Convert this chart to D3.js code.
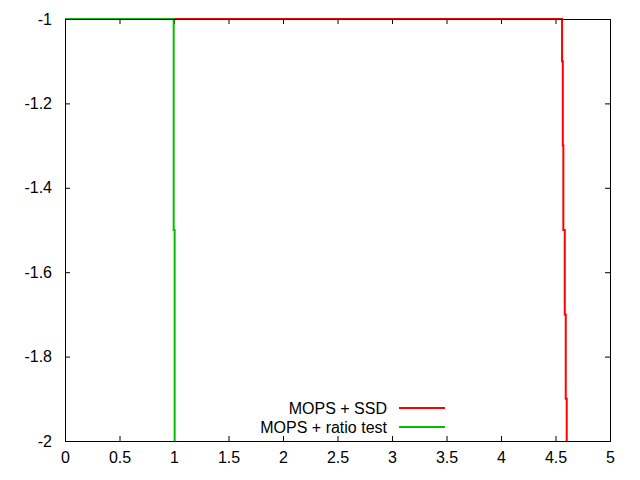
<!DOCTYPE html>
<html>
<head>
<meta charset="utf-8">
<script src="https://cdn.jsdelivr.net/npm/d3@7"></script>
<style>
  body { margin: 0; background: #fff; }
  text { font-family: "Liberation Sans", Arial, sans-serif; font-size: 16px; fill: #000; }
</style>
</head>
<body>
<svg id="chart" width="640" height="480"></svg>
<script>
// series (x, y) - stepped curves
var ssdX = [0, 4.56, 4.56, 4.567, 4.567, 4.572, 4.572, 4.585, 4.585, 4.594, 4.594, 4.603, 4.603];
var ssdY = [-1, -1, -1.1, -1.1, -1.3, -1.3, -1.5, -1.5, -1.7, -1.7, -1.9, -1.9, -2];
var ratioX = [0, 0.997, 0.997, 1.006, 1.006];
var ratioY = [-1, -1, -1.5, -1.5, -2];

var xTicks = [0, 0.5, 1, 1.5, 2, 2.5, 3, 3.5, 4, 4.5, 5];
var yTicks = [-1, -1.2, -1.4, -1.6, -1.8, -2];

var seriesNames = ['MOPS + SSD', 'MOPS + ratio test'];
var seriesColors = ['#ff0000', '#00c000'];

var margin = {left: 65, right: 30, top: 19, bottom: 39};
var width = 640, height = 480;

var svg = d3.select('#chart');

var x = d3.scaleLinear().domain([0, 5]).range([margin.left, width - margin.right]);
var y = d3.scaleLinear().domain([-2, -1]).range([height - margin.bottom, margin.top]);

var fmt = function(d) { return String(d); };

// axes, gnuplot style: ticks pointing inward, mirrored
svg.append('g')
  .attr('transform', 'translate(0,' + y(-2) + ')')
  .call(d3.axisBottom(x).tickValues(xTicks).tickFormat(fmt).tickSizeInner(-5).tickSizeOuter(0).tickPadding(11));
svg.append('g')
  .attr('transform', 'translate(0,' + y(-1) + ')')
  .call(d3.axisTop(x).tickValues(xTicks).tickFormat('').tickSizeInner(-5).tickSizeOuter(0));
svg.append('g')
  .attr('transform', 'translate(' + x(0) + ',0)')
  .call(d3.axisLeft(y).tickValues(yTicks).tickFormat(fmt).tickSizeInner(-5).tickSizeOuter(0).tickPadding(13));
svg.append('g')
  .attr('transform', 'translate(' + x(5) + ',0)')
  .call(d3.axisRight(y).tickValues(yTicks).tickFormat('').tickSizeInner(-5).tickSizeOuter(0));

svg.selectAll('.domain').remove();
svg.selectAll('.tick line').attr('stroke', '#000');
svg.selectAll('.tick text').style('font-size', '16px').style('font-family', '"Liberation Sans", Arial, sans-serif');

var line = d3.line()
  .x(function(d) { return x(d[0]); })
  .y(function(d) { return y(d[1]); });

var series = [d3.zip(ssdX, ssdY), d3.zip(ratioX, ratioY)];

series.forEach(function(pts, i) {
  svg.append('path')
    .datum(pts)
    .attr('d', line)
    .attr('fill', 'none')
    .attr('stroke', seriesColors[i])
    .attr('stroke-width', 2);
});

// frame drawn last so lines along the top edge show as a thin coloured row
svg.append('rect')
  .attr('x', x(0) + 0.5).attr('y', y(-1) + 0.5)
  .attr('width', x(5) - x(0)).attr('height', y(-2) - y(-1))
  .attr('fill', 'none').attr('stroke', '#000');

// legend
var legend = svg.append('g').attr('transform', 'translate(0,' + 408 + ')');
seriesNames.forEach(function(name, i) {
  var g = legend.append('g').attr('transform', 'translate(0,' + (i * 19) + ')');
  g.append('text')
    .attr('x', 387).attr('y', 0).attr('dy', '0.35em')
    .attr('text-anchor', 'end')
    .text(name);
  g.append('line')
    .attr('x1', 399).attr('x2', 445)
    .attr('stroke', seriesColors[i]).attr('stroke-width', 2);
});
</script>
</body>
</html>
